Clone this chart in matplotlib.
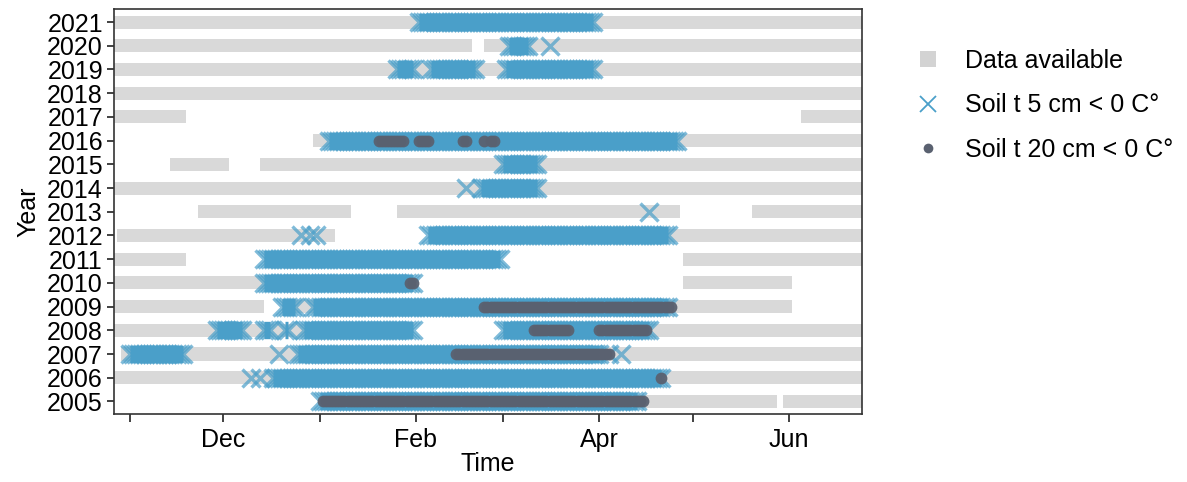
import matplotlib
matplotlib.use("Agg")
import matplotlib.pyplot as plt
import matplotlib.dates as mdates
from matplotlib.lines import Line2D
import pandas as pd

plt.rcParams['font.family'] = ['Liberation Sans', 'DejaVu Sans']

years = list(range(2005, 2022))

# runs are (season year, first day, last day), days as MM-DD, season Oct -> Jun
available = [
    (2005, '01-01', '05-28'), (2005, '05-30', '06-30'),
    (2006, '10-20', '06-30'),
    (2007, '10-29', '06-30'),
    (2008, '10-20', '01-31'), (2008, '03-01', '06-30'),
    (2009, '10-20', '12-14'), (2009, '12-20', '06-02'),
    (2010, '10-20', '01-31'), (2010, '04-28', '06-02'),
    (2011, '10-20', '11-19'), (2011, '12-14', '02-28'), (2011, '04-28', '06-30'),
    (2012, '10-28', '01-06'), (2012, '02-05', '06-30'),
    (2013, '11-23', '01-11'), (2013, '01-26', '04-27'), (2013, '05-20', '06-30'),
    (2014, '10-20', '06-30'),
    (2015, '11-14', '12-03'), (2015, '12-13', '06-30'),
    (2016, '12-30', '06-30'),
    (2017, '10-20', '11-19'), (2017, '06-05', '06-30'),
    (2018, '10-20', '06-30'),
    (2019, '10-20', '06-30'),
    (2020, '10-20', '02-19'), (2020, '02-23', '06-30'),
    (2021, '10-20', '06-30'),
]

frost_5cm = [
    (2005, '01-01', '04-13'),
    (2006, '12-10', '12-10'), (2006, '12-13', '12-13'), (2006, '12-17', '04-21'),
    (2007, '11-01', '11-18'), (2007, '12-19', '12-19'), (2007, '12-25', '04-01'),
    (2007, '04-04', '04-04'), (2007, '04-08', '04-08'),
    (2008, '11-29', '12-07'), (2008, '12-14', '12-16'), (2008, '12-21', '12-22'),
    (2008, '12-27', '01-31'), (2008, '03-01', '04-17'),
    (2009, '12-20', '12-24'), (2009, '12-30', '04-23'),
    (2010, '12-14', '01-31'),
    (2011, '12-14', '02-28'),
    (2012, '12-26', '12-26'), (2012, '12-29', '12-29'), (2012, '12-31', '12-31'),
    (2012, '02-05', '04-23'),
    (2013, '04-17', '04-17'),
    (2014, '02-17', '02-17'), (2014, '02-22', '03-12'),
    (2015, '03-01', '03-12'),
    (2016, '01-04', '04-26'),
    (2019, '01-26', '01-31'), (2019, '02-06', '02-20'), (2019, '03-02', '03-30'),
    (2020, '03-03', '03-09'), (2020, '03-16', '03-16'),
    (2021, '02-02', '03-30'),
]

frost_20cm = [
    (2005, '01-02', '04-15'),
    (2006, '04-21', '04-21'),
    (2007, '02-14', '04-04'),
    (2008, '03-11', '03-22'), (2008, '04-01', '04-16'),
    (2009, '02-23', '04-24'),
    (2010, '01-30', '01-31'),
    (2016, '01-20', '01-28'), (2016, '02-02', '02-05'), (2016, '02-16', '02-17'),
    (2016, '02-23', '02-23'), (2016, '02-25', '02-26'),
]

month_ticks = ['11-01', '12-01', '01-01', '02-01', '03-01', '04-01', '05-01', '06-01']
month_labels = ['', 'Dec', '', 'Feb', '', 'Apr', '', 'Jun']

grey = '#d9d9d9'
blue = '#4a9fc9'
slate = '#5a6170'
ink = '#333333'
fs = 18


def to_date(md):
    # months from October on belong to the first calendar year of the season
    m = int(md[:2])
    return pd.Timestamp('%d-%s' % (2000 if m >= 10 else 2001, md))


fig = plt.figure(figsize=(11.87, 4.82), dpi=100)
ax = fig.add_axes([114 / 1187, 68 / 482, 748 / 1187, 405 / 482])

for yr, a, b in available:
    start = mdates.date2num(to_date(a))
    stop = mdates.date2num(to_date(b))
    ax.barh(yr, stop - start, left=start, height=0.55, color=grey, lw=0, zorder=1)

for yr, a, b in frost_5cm:
    days = pd.date_range(to_date(a), to_date(b), freq='D')
    # consecutive frozen days merge into one band
    ax.plot(days, [yr] * len(days), ls='-', lw=12.5, color=blue,
            solid_capstyle='butt', zorder=2)
    ax.plot(days, [yr] * len(days), ls='none', marker='x', ms=13.5, mew=2.4,
            color=blue, alpha=0.7, zorder=2)

for yr, a, b in frost_20cm:
    days = pd.date_range(to_date(a), to_date(b), freq='D')
    ax.plot(days, [yr] * len(days), ls='none', marker='o', ms=8.5, mew=0,
            color=slate, alpha=0.95, zorder=3)

ax.set_xlim(to_date('10-27') - pd.Timedelta(hours=3), to_date('06-24') + pd.Timedelta(hours=12))
ax.set_ylim(2004.47, 2021.55)
ax.set_xticks([to_date(t) for t in month_ticks])
ax.set_xticklabels(month_labels)
ax.set_yticks(years)
ax.set_yticklabels([str(y) for y in years])

for s in ax.spines.values():
    s.set_color(ink)
    s.set_linewidth(1.2)
ax.tick_params(axis='both', colors=ink, width=1.3, labelsize=fs, labelcolor='black')
ax.tick_params(axis='y', length=5, pad=3)
ax.tick_params(axis='x', length=6, pad=4)

ax.set_xlabel('Time', fontsize=fs, labelpad=0)
ax.set_ylabel('Year', fontsize=fs, labelpad=5)

handles = [
    Line2D([], [], ls='none', marker='s', ms=11, mew=0, color='#d3d3d3'),
    Line2D([], [], ls='none', marker='x', ms=12, mew=1.3, color=blue),
    Line2D([], [], ls='none', marker='o', ms=7, mew=0, color=slate),
]
labels = ['Data available', 'Soil t 5 cm < 0 C°', 'Soil t 20 cm < 0 C°']
fig.legend(handles, labels, loc='upper left', bbox_to_anchor=(903 / 1187, 1 - 49 / 482),
           frameon=False, fontsize=fs, borderpad=0, borderaxespad=0, handlelength=2.0,
           handletextpad=0.48, labelspacing=0.82)

fig.savefig('out.png', dpi=100)
